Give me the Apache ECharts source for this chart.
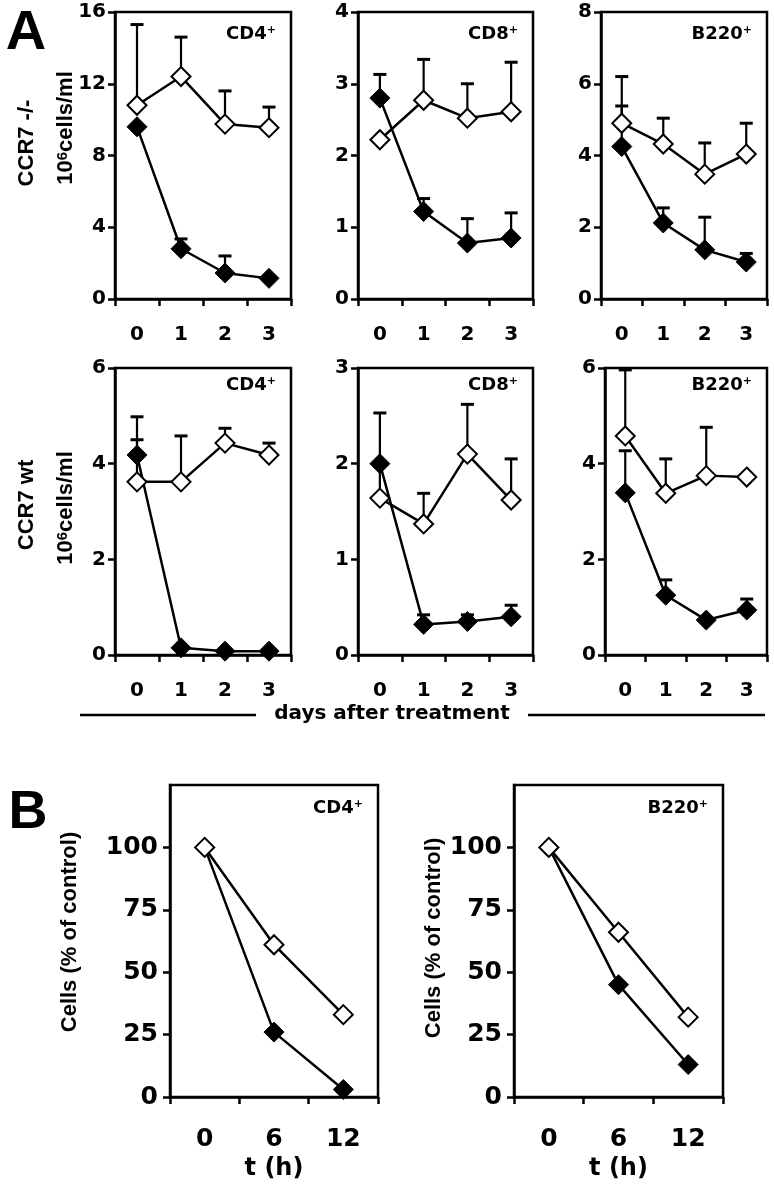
<!DOCTYPE html>
<html><head><meta charset="utf-8">
<script src="https://cdn.jsdelivr.net/npm/echarts@6/dist/echarts.min.js"></script>
<style>html,body{margin:0;padding:0;background:#fff}#c{width:774px;height:1200px}</style>
</head><body><div id="c"></div>
<script>
// ---------- categories / tick labels ----------
const dayLabels = ['0', '1', '2', '3'];
const hourLabels = ['0', '6', '12'];
const pctTicks = [0, 25, 50, 75, 100];

// ---------- Panel A, CCR7 -/- (10^6 cells/ml) ----------
const koCD4Open = [10.8, 12.4, 9.75, 9.55];
const koCD4OpenSD = [4.5, 2.2, 1.85, 1.15];
const koCD4Filled = [9.6, 2.8, 1.45, 1.15];
const koCD4FilledSD = [0, 0.55, 0.95, 0];

const koCD8Open = [2.22, 2.77, 2.52, 2.61];
const koCD8OpenSD = [0, 0.57, 0.48, 0.69];
const koCD8Filled = [2.8, 1.22, 0.78, 0.85];
const koCD8FilledSD = [0.33, 0.18, 0.34, 0.35];

const koB220Open = [4.9, 4.32, 3.48, 4.04];
const koB220OpenSD = [1.3, 0.72, 0.87, 0.86];
const koB220Filled = [4.25, 2.12, 1.37, 1.03];
const koB220FilledSD = [1.13, 0.42, 0.91, 0.24];

// ---------- Panel A, CCR7 wt ----------
const wtCD4Open = [3.62, 3.62, 4.43, 4.18];
const wtCD4OpenSD = [1.36, 0.96, 0.31, 0.25];
const wtCD4Filled = [4.18, 0.15, 0.08, 0.08];
const wtCD4FilledSD = [0.32, 0, 0, 0];

const wtCD8Open = [1.64, 1.37, 2.1, 1.62];
const wtCD8OpenSD = [0.89, 0.32, 0.52, 0.43];
const wtCD8Filled = [2.0, 0.32, 0.35, 0.4];
const wtCD8FilledSD = [0, 0.1, 0.07, 0.12];

const wtB220Open = [4.58, 3.38, 3.75, 3.72];
const wtB220OpenSD = [1.38, 0.72, 1.01, 0];
const wtB220Filled = [3.39, 1.25, 0.73, 0.94];
const wtB220FilledSD = [0.88, 0.32, 0, 0.23];

// ---------- Panel B (% of control) ----------
const bCD4Open = [100, 61, 33];
const bCD4Filled = [100, 26, 3];
const bB220Open = [100, 66, 32];
const bB220Filled = [100, 45, 13];

// ---------- layout ----------
const FONT = 'DejaVu Sans';
const FONT2 = 'Liberation Sans';
const panels = [
  {box: [115, 12, 176, 287], cats: dayLabels, max: 16, interval: 4, open: koCD4Open, openSD: koCD4OpenSD, filled: koCD4Filled, filledSD: koCD4FilledSD, name: 'CD4', ly: 22},
  {box: [358, 12, 175, 287], cats: dayLabels, max: 4, interval: 1, open: koCD8Open, openSD: koCD8OpenSD, filled: koCD8Filled, filledSD: koCD8FilledSD, name: 'CD8', ly: 22},
  {box: [601, 12, 166, 287], cats: dayLabels, max: 8, interval: 2, open: koB220Open, openSD: koB220OpenSD, filled: koB220Filled, filledSD: koB220FilledSD, name: 'B220', ly: 22},
  {box: [115, 368, 176, 287], cats: dayLabels, max: 6, interval: 2, open: wtCD4Open, openSD: wtCD4OpenSD, filled: wtCD4Filled, filledSD: wtCD4FilledSD, name: 'CD4', ly: 17},
  {box: [358, 368, 175, 287], cats: dayLabels, max: 3, interval: 1, open: wtCD8Open, openSD: wtCD8OpenSD, filled: wtCD8Filled, filledSD: wtCD8FilledSD, name: 'CD8', ly: 17},
  {box: [605, 368, 162, 287], cats: dayLabels, max: 6, interval: 2, open: wtB220Open, openSD: wtB220OpenSD, filled: wtB220Filled, filledSD: wtB220FilledSD, name: 'B220', ly: 17},
  {box: [170, 785, 208, 312], cats: hourLabels, max: 125, interval: 25, open: bCD4Open, openSD: null, filled: bCD4Filled, filledSD: null, name: 'CD4', ly: 23, big: true},
  {box: [514, 785, 209, 312], cats: hourLabels, max: 125, interval: 25, open: bB220Open, openSD: null, filled: bB220Filled, filledSD: null, name: 'B220', ly: 23, big: true}
];

function errRender(params, api) {
  const i = api.value(0), v = api.value(1), t = api.value(2);
  const p0 = api.coord([i, v]), p1 = api.coord([i, t]);
  return {type: 'group', children: [
    {type: 'line', shape: {x1: p0[0], y1: p0[1], x2: p1[0], y2: p1[1]}, style: {stroke: '#000', lineWidth: 2.2}},
    {type: 'line', shape: {x1: p1[0] - 6.5, y1: p1[1], x2: p1[0] + 6.5, y2: p1[1]}, style: {stroke: '#000', lineWidth: 3}}
  ]};
}

const grid = [], xAxis = [], yAxis = [], series = [], graphic = [];
panels.forEach((p, k) => {
  const [l, t, w, h] = p.box;
  grid.push({left: l, top: t, width: w, height: h, show: true, borderColor: '#000', borderWidth: 2.5,
    backgroundColor: 'rgba(0,0,0,0)', containLabel: false, outerBoundsMode: 'none'});
  const tickFont = p.big ? 25 : 20;
  const xa = {
    gridIndex: k, type: 'category', data: p.cats, boundaryGap: true,
    axisLine: {show: true, lineStyle: {color: '#000', width: 2.5}},
    axisTick: {show: true, inside: false, length: 7, lineStyle: {color: '#000', width: 2.5}},
    axisLabel: {margin: p.big ? 30 : 26, color: '#000', fontFamily: FONT, fontWeight: 'bold', fontSize: tickFont},
    splitLine: {show: false}
  };
  if (p.big) {
    xa.name = 't (h)';
    xa.nameLocation = 'middle';
    xa.nameGap = 60;
    xa.nameTextStyle = {color: '#000', fontFamily: FONT, fontWeight: 'bold', fontSize: 24, verticalAlign: 'top'};
  }
  xAxis.push(xa);
  const ya = {
    gridIndex: k, type: 'value', min: 0, max: p.max, interval: p.interval,
    axisLine: {show: true, lineStyle: {color: '#000', width: 2.5}},
    axisTick: {show: true, inside: false, length: 7, lineStyle: {color: '#000', width: 2.5}},
    axisLabel: {margin: p.big ? 12 : 9, color: '#000', fontFamily: FONT, fontWeight: 'bold', fontSize: tickFont},
    splitLine: {show: false}
  };
  if (p.big) {
    ya.axisLabel.customValues = pctTicks;
    ya.axisTick.customValues = pctTicks;
  }
  yAxis.push(ya);

  const errData = [];
  [[p.filled, p.filledSD], [p.open, p.openSD]].forEach(([vals, sd]) => {
    if (!sd) return;
    vals.forEach((v, i) => { if (sd[i] > 0) errData.push([i, v, v + sd[i]]); });
  });
  if (errData.length) {
    series.push({type: 'custom', xAxisIndex: k, yAxisIndex: k, renderItem: errRender, data: errData,
      encode: {x: 0, y: [1, 2]}, z: 2, clip: false, silent: true, animation: false});
  }
  series.push({type: 'line', xAxisIndex: k, yAxisIndex: k, data: p.filled, z: 3, clip: false,
    symbol: 'diamond', symbolSize: 20, showSymbol: true, animation: false,
    lineStyle: {color: '#000', width: 2.5}, itemStyle: {color: '#000', borderColor: '#000', borderWidth: 1}});
  series.push({type: 'line', xAxisIndex: k, yAxisIndex: k, data: p.open, z: 4, clip: false,
    symbol: 'diamond', symbolSize: 19, showSymbol: true, animation: false,
    lineStyle: {color: '#000', width: 2.5}, itemStyle: {color: '#fff', borderColor: '#000', borderWidth: 2}});

  graphic.push({type: 'text', x: l + w - 15, y: t + p.ly, z: 10,
    style: {text: '{m|' + p.name + '}{s|+}', align: 'right', verticalAlign: 'middle',
      textAlign: 'right', textVerticalAlign: 'middle', fill: '#000',
      rich: {m: {fontFamily: FONT, fontWeight: 'bold', fontSize: 18, fill: '#000', color: '#000'},
             s: {fontFamily: FONT, fontWeight: 'bold', fontSize: 11, verticalAlign: 'top', fill: '#000', color: '#000'}}}});
});

function rotText(x, y, text, rich) {
  return {type: 'text', x: x, y: y, rotation: Math.PI / 2, z: 10,
    style: {text: text, align: 'center', verticalAlign: 'middle', textAlign: 'center', textVerticalAlign: 'middle',
      fill: '#000', rich: rich}};
}
const unitRich = {
  a: {fontFamily: FONT2, fontWeight: 'bold', fontSize: 22, fill: '#000', color: '#000'},
  s: {fontFamily: FONT2, fontWeight: 'bold', fontSize: 15, verticalAlign: 'top', fill: '#000', color: '#000'}
};
const titleRich = {a: {fontFamily: FONT2, fontWeight: 'bold', fontSize: 22, fill: '#000', color: '#000'}};
const pctRich = {a: {fontFamily: FONT2, fontWeight: 'bold', fontSize: 22, fill: '#000', color: '#000'}};

graphic.push(
  {type: 'text', x: 26, y: 34, z: 10, style: {text: 'A', align: 'center', verticalAlign: 'middle', textAlign: 'center', textVerticalAlign: 'middle', fill: '#000', font: 'bold 56px "Liberation Sans"'}},
  {type: 'text', x: 28, y: 813, z: 10, style: {text: 'B', align: 'center', verticalAlign: 'middle', textAlign: 'center', textVerticalAlign: 'middle', fill: '#000', font: 'bold 54px "Liberation Sans"'}},
  rotText(27, 143, '{a|CCR7 -/-}', titleRich),
  rotText(66, 128, '{a|10}{s|6}{a|cells/ml}', unitRich),
  rotText(27, 505, '{a|CCR7 wt}', titleRich),
  rotText(66, 508, '{a|10}{s|6}{a|cells/ml}', unitRich),
  rotText(70, 932, '{a|Cells (% of control)}', pctRich),
  rotText(434, 938, '{a|Cells (% of control)}', pctRich),
  {type: 'text', x: 392, y: 714, z: 10, style: {text: 'days after treatment', align: 'center', verticalAlign: 'middle', textAlign: 'center', textVerticalAlign: 'middle', fill: '#000', font: 'bold 20px "DejaVu Sans"'}},
  {type: 'line', shape: {x1: 80, y1: 715, x2: 256, y2: 715}, style: {stroke: '#000', lineWidth: 2.5}},
  {type: 'line', shape: {x1: 528, y1: 715, x2: 765, y2: 715}, style: {stroke: '#000', lineWidth: 2.5}}
);

const chart = echarts.init(document.getElementById('c'), null, {renderer: 'canvas', width: 774, height: 1200});
chart.setOption({
  backgroundColor: '#fff',
  animation: false,
  grid: grid, xAxis: xAxis, yAxis: yAxis, series: series, graphic: graphic
});
</script></body></html>
